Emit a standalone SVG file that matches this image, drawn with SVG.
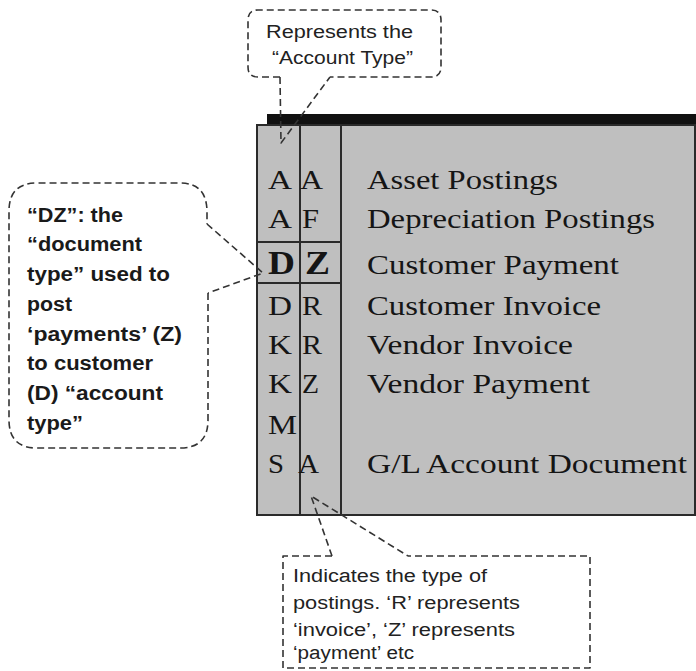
<svg xmlns="http://www.w3.org/2000/svg" width="696" height="671" viewBox="0 0 696 671">
<style>
.bg{fill:#ffffff}
.box{fill:#bfbfbf;stroke:#2a2a2a;stroke-width:2}
.grid{stroke:#2a2a2a;stroke-width:2;fill:none}
.shadow{fill:#111111}
.call{fill:none;stroke:#333333;stroke-width:1.6;stroke-dasharray:7 4;stroke-linejoin:round}
.serif{font-family:"Liberation Serif","Times New Roman",serif;font-size:27px;fill:#151515}
.serifb{font-family:"Liberation Serif","Times New Roman",serif;font-size:33px;font-weight:bold;fill:#151515}
.sans{font-family:"Liberation Sans",Arial,sans-serif;font-size:18px;fill:#222222}
.sansb{font-family:"Liberation Sans",Arial,sans-serif;font-size:20px;font-weight:bold;fill:#1a1a1a}
</style>
<rect class="bg" x="0" y="0" width="696" height="671"/>

<g id="table">
  <rect class="shadow" x="267" y="114" width="429" height="12"/>
  <rect class="box" x="257" y="125" width="438" height="390"/>
  <line class="grid" x1="300" y1="125" x2="300" y2="515"/>
  <line class="grid" x1="341" y1="125" x2="341" y2="515"/>
  <line class="grid" x1="257" y1="242" x2="341" y2="242"/>
  <line class="grid" x1="257" y1="283" x2="341" y2="283"/>

  <text class="serif" x="268" y="189" textLength="24" lengthAdjust="spacingAndGlyphs">A</text>
  <text class="serif" x="300" y="189" textLength="23" lengthAdjust="spacingAndGlyphs">A</text>
  <text class="serif" x="367" y="189" textLength="191" lengthAdjust="spacingAndGlyphs">Asset Postings</text>

  <text class="serif" x="268" y="228" textLength="24" lengthAdjust="spacingAndGlyphs">A</text>
  <text class="serif" x="302" y="228" textLength="17" lengthAdjust="spacingAndGlyphs">F</text>
  <text class="serif" x="367" y="228" textLength="288" lengthAdjust="spacingAndGlyphs">Depreciation Postings</text>

  <text class="serifb" x="268" y="274" textLength="27" lengthAdjust="spacingAndGlyphs">D</text>
  <text class="serifb" x="305" y="274" textLength="25" lengthAdjust="spacingAndGlyphs">Z</text>
  <text class="serif" x="367" y="274" textLength="252" lengthAdjust="spacingAndGlyphs">Customer Payment</text>

  <text class="serif" x="268" y="315" textLength="24" lengthAdjust="spacingAndGlyphs">D</text>
  <text class="serif" x="302" y="315" textLength="20" lengthAdjust="spacingAndGlyphs">R</text>
  <text class="serif" x="367" y="315" textLength="234" lengthAdjust="spacingAndGlyphs">Customer Invoice</text>

  <text class="serif" x="268" y="354" textLength="24" lengthAdjust="spacingAndGlyphs">K</text>
  <text class="serif" x="302" y="354" textLength="20" lengthAdjust="spacingAndGlyphs">R</text>
  <text class="serif" x="367" y="354" textLength="206" lengthAdjust="spacingAndGlyphs">Vendor Invoice</text>

  <text class="serif" x="268" y="393" textLength="24" lengthAdjust="spacingAndGlyphs">K</text>
  <text class="serif" x="302" y="393" textLength="17" lengthAdjust="spacingAndGlyphs">Z</text>
  <text class="serif" x="367" y="393" textLength="223" lengthAdjust="spacingAndGlyphs">Vendor Payment</text>

  <text class="serif" x="268" y="434" textLength="29" lengthAdjust="spacingAndGlyphs">M</text>

  <text class="serif" x="268" y="473" textLength="16" lengthAdjust="spacingAndGlyphs">S</text>
  <text class="serif" x="298" y="473" textLength="21" lengthAdjust="spacingAndGlyphs">A</text>
  <text class="serif" x="367" y="473" textLength="320" lengthAdjust="spacingAndGlyphs">G/L Account Document</text>
</g>

<g id="callout-account-type">
  <path class="call" d="M280,77 L258,77 Q248,77 248,67 L248,20 Q248,10 258,10 L431,10 Q441,10 441,20 L441,67 Q441,77 431,77 L330,77"/>
  <text class="sans" x="266" y="38" textLength="147" lengthAdjust="spacingAndGlyphs">Represents the</text>
  <text class="sans" x="272" y="64" textLength="141" lengthAdjust="spacingAndGlyphs">“Account Type”</text>
</g>

<g id="callout-dz">
  <path class="call" d="M208,293 L208,420 Q208,448 180,448 L37,448 Q9,448 9,420 L9,211 Q9,183 37,183 L180,183 Q207,183 207,212 L207,224"/>
  <text class="sansb" x="27" y="222" textLength="96" lengthAdjust="spacingAndGlyphs">“DZ”: the</text>
  <text class="sansb" x="27" y="251" textLength="115" lengthAdjust="spacingAndGlyphs">“document</text>
  <text class="sansb" x="27" y="281" textLength="143" lengthAdjust="spacingAndGlyphs">type” used to</text>
  <text class="sansb" x="27" y="311" textLength="45" lengthAdjust="spacingAndGlyphs">post</text>
  <text class="sansb" x="27" y="341" textLength="155" lengthAdjust="spacingAndGlyphs">‘payments’ (Z)</text>
  <text class="sansb" x="27" y="370" textLength="126" lengthAdjust="spacingAndGlyphs">to customer</text>
  <text class="sansb" x="27" y="400" textLength="136" lengthAdjust="spacingAndGlyphs">(D) “account</text>
  <text class="sansb" x="27" y="430" textLength="56" lengthAdjust="spacingAndGlyphs">type”</text>
</g>

<g id="callout-posting-type">
  <path class="call" d="M332,556 L283,556 L283,668 L590,668 L590,556 L408,556"/>
  <text class="sans" x="293" y="582" textLength="194" lengthAdjust="spacingAndGlyphs">Indicates the type of</text>
  <text class="sans" x="293" y="609" textLength="227" lengthAdjust="spacingAndGlyphs">postings. ‘R’ represents</text>
  <text class="sans" x="293" y="636" textLength="222" lengthAdjust="spacingAndGlyphs">‘invoice’, ‘Z’ represents</text>
  <text class="sans" x="293" y="659" textLength="121" lengthAdjust="spacingAndGlyphs">‘payment’ etc</text>
</g>

<g id="connectors">
  <path class="call" d="M280,77 L281,143 L330,77"/>
  <path class="call" d="M207,224 L263,273 L208,293"/>
  <path class="call" d="M332,556 L311,496 L408,556"/>
</g>
</svg>
